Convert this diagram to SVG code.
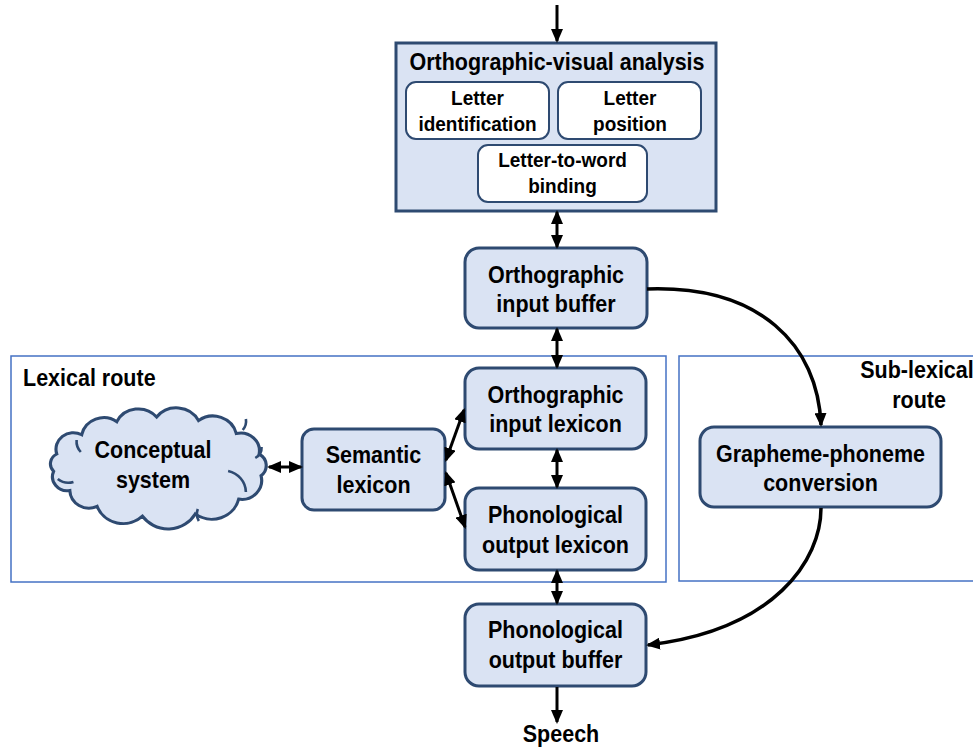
<svg xmlns="http://www.w3.org/2000/svg" width="973" height="749" viewBox="0 0 973 749">
  <style>
    .box { fill: #DAE3F3; stroke: #2E4A71; stroke-width: 3; }
    .inner { fill: #FFFFFF; stroke: #2E4A71; stroke-width: 2; }
    .route { fill: none; stroke: #4472C4; stroke-width: 1.5; }
    .t { font-family: "Liberation Sans", Arial, sans-serif; font-weight: bold; font-size: 21.5px; fill: #000; text-anchor: middle; }
    .s { font-size: 19px; }
    .l { text-anchor: start; }
    .c { fill: none; stroke: #000; stroke-width: 3; }
    .cv { fill: none; stroke: #000; stroke-width: 3.5; }
    .cl { fill: none; stroke: #2E4A71; stroke-width: 2.5; }
  </style>
  <defs>
    <marker id="ah" markerUnits="userSpaceOnUse" markerWidth="14" markerHeight="12" refX="12" refY="6" orient="auto-start-reverse">
      <path d="M0,0 L14,6 L0,12 z" fill="#000"/>
    </marker>
  </defs>

  <rect width="973" height="749" fill="#FFFFFF"/>

  <!-- route containers -->
  <g id="lexical-route">
    <rect class="route" x="11" y="356" width="655" height="226"/>
    <text class="t l" transform="matrix(1 0 0 1.1 23 386)">Lexical route</text>
  </g>
  <g id="sublexical-route">
    <rect class="route" x="679" y="356" width="300" height="225"/>
    <text class="t" transform="matrix(1 0 0 1.1 917 378)">Sub-lexical</text>
    <text class="t" transform="matrix(1 0 0 1.1 919 408)">route</text>
  </g>

  <!-- orthographic-visual analysis with its three sub-processes -->
  <g id="ova">
    <rect class="box" x="396" y="43" width="320" height="168"/>
    <text class="t" transform="matrix(1 0 0 1.1 557 70)">Orthographic-visual analysis</text>
    <g id="letter-identification">
      <rect class="inner" x="406" y="82" width="143" height="57" rx="10"/>
      <text class="t s" transform="matrix(1 0 0 1.1 477.5 105)">Letter</text>
      <text class="t s" transform="matrix(1 0 0 1.1 477.5 131)">identification</text>
    </g>
    <g id="letter-position">
      <rect class="inner" x="558" y="82" width="143" height="57" rx="10"/>
      <text class="t s" transform="matrix(1 0 0 1.1 630 105)">Letter</text>
      <text class="t s" transform="matrix(1 0 0 1.1 630 131)">position</text>
    </g>
    <g id="letter-to-word">
      <rect class="inner" x="478" y="145" width="169" height="57" rx="10"/>
      <text class="t s" transform="matrix(1 0 0 1.1 562.5 167)">Letter-to-word</text>
      <text class="t s" transform="matrix(1 0 0 1.1 562.5 193)">binding</text>
    </g>
  </g>

  <g id="oib">
    <rect class="box" x="465" y="248" width="182" height="80" rx="14"/>
    <text class="t" transform="matrix(1 0 0 1.1 556 283)">Orthographic</text>
    <text class="t" transform="matrix(1 0 0 1.1 556 312)">input buffer</text>
  </g>

  <g id="oil">
    <rect class="box" x="465" y="368" width="181" height="81" rx="14"/>
    <text class="t" transform="matrix(1 0 0 1.1 555.5 403)">Orthographic</text>
    <text class="t" transform="matrix(1 0 0 1.1 555.5 432)">input lexicon</text>
  </g>

  <g id="pol">
    <rect class="box" x="465" y="488" width="181" height="82" rx="14"/>
    <text class="t" transform="matrix(1 0 0 1.1 555.5 523)">Phonological</text>
    <text class="t" transform="matrix(1 0 0 1.1 555.5 553)">output lexicon</text>
  </g>

  <g id="pob">
    <rect class="box" x="465" y="604" width="181" height="82" rx="14"/>
    <text class="t" transform="matrix(1 0 0 1.1 555.5 638)">Phonological</text>
    <text class="t" transform="matrix(1 0 0 1.1 555.5 668)">output buffer</text>
  </g>

  <g id="semantic">
    <rect class="box" x="302" y="429" width="143" height="81" rx="12"/>
    <text class="t" transform="matrix(1 0 0 1.1 373.5 463)">Semantic</text>
    <text class="t" transform="matrix(1 0 0 1.1 373.5 493)">lexicon</text>
  </g>

  <g id="gpc">
    <rect class="box" x="700" y="427" width="241" height="80" rx="14"/>
    <text class="t" transform="matrix(1 0 0 1.1 820.5 462)">Grapheme-phoneme</text>
    <text class="t" transform="matrix(1 0 0 1.1 820.5 491)">conversion</text>
  </g>

  <!-- cloud outline built from outward arcs, plus the small inner folds -->
  <g id="conceptual">
    <g transform="matrix(1.045 0 0 1 -7 0)">
      <path class="box" stroke-width="2.5" d="M61,454
        A16.5 16.5 0 0 1 84.9,434.8
        A21.6 21.6 0 0 1 118.5,421.7
        A23 23 0 0 1 156.6,417
        A24 24 0 0 1 196.7,420.6
        A23 23 0 0 1 232.8,433.5
        A18 18 0 0 1 254.7,454.1
        A13 13 0 0 1 256.5,475.7
        A19 19 0 0 1 235.1,499.1
        A26.5 26.5 0 0 1 193.5,514
        A30 30 0 0 1 143,516.2
        A26.7 26.7 0 0 1 99.6,506.4
        A18.4 18.4 0 0 1 73.5,490.5
        A14 14 0 0 1 58,471.4
        A11 11 0 0 1 61,454 Z"/>
      <path class="cl" d="M62,479 A16 16 0 0 0 77,482"/>
      <path class="cl" d="M80,440 A16 16 0 0 0 84,452"/>
      <path class="cl" d="M239,430 A14 14 0 0 0 242,419"/>
      <path class="cl" d="M251,458 A12 12 0 0 0 257,447"/>
      <path class="cl" d="M225,471 A22 22 0 0 1 242,492"/>
      <path class="cl" d="M196,509 A14 14 0 0 0 197,521"/>
    </g>
    <text class="t" transform="matrix(1 0 0 1.1 153 458)">Conceptual</text>
    <text class="t" transform="matrix(1 0 0 1.1 153 488)">system</text>
  </g>

  <g id="speech">
    <text class="t" transform="matrix(1 0 0 1.1 561 742)">Speech</text>
  </g>

  <!-- connectors -->
  <g id="connectors">
    <line class="c" x1="557" y1="5" x2="557" y2="41" marker-end="url(#ah)"/>
    <line class="c" x1="557" y1="212" x2="557" y2="247" marker-start="url(#ah)" marker-end="url(#ah)"/>
    <line class="c" x1="557" y1="329" x2="557" y2="367" marker-start="url(#ah)" marker-end="url(#ah)"/>
    <line class="c" x1="557" y1="450" x2="557" y2="487" marker-start="url(#ah)" marker-end="url(#ah)"/>
    <line class="c" x1="557" y1="571" x2="557" y2="603" marker-start="url(#ah)" marker-end="url(#ah)"/>
    <line class="c" x1="557" y1="687" x2="557" y2="722" marker-end="url(#ah)"/>
    <line class="c" x1="269" y1="467" x2="301" y2="467" marker-start="url(#ah)" marker-end="url(#ah)"/>
    <line class="c" x1="446" y1="460" x2="464" y2="410" marker-start="url(#ah)" marker-end="url(#ah)"/>
    <line class="c" x1="446" y1="473" x2="465" y2="527" marker-start="url(#ah)" marker-end="url(#ah)"/>
    <path class="cv" d="M647,289 C760,285 818,345 821,425" marker-end="url(#ah)"/>
    <path class="cv" d="M821,508 C821,560 775,630 648,645" marker-end="url(#ah)"/>
  </g>
</svg>
